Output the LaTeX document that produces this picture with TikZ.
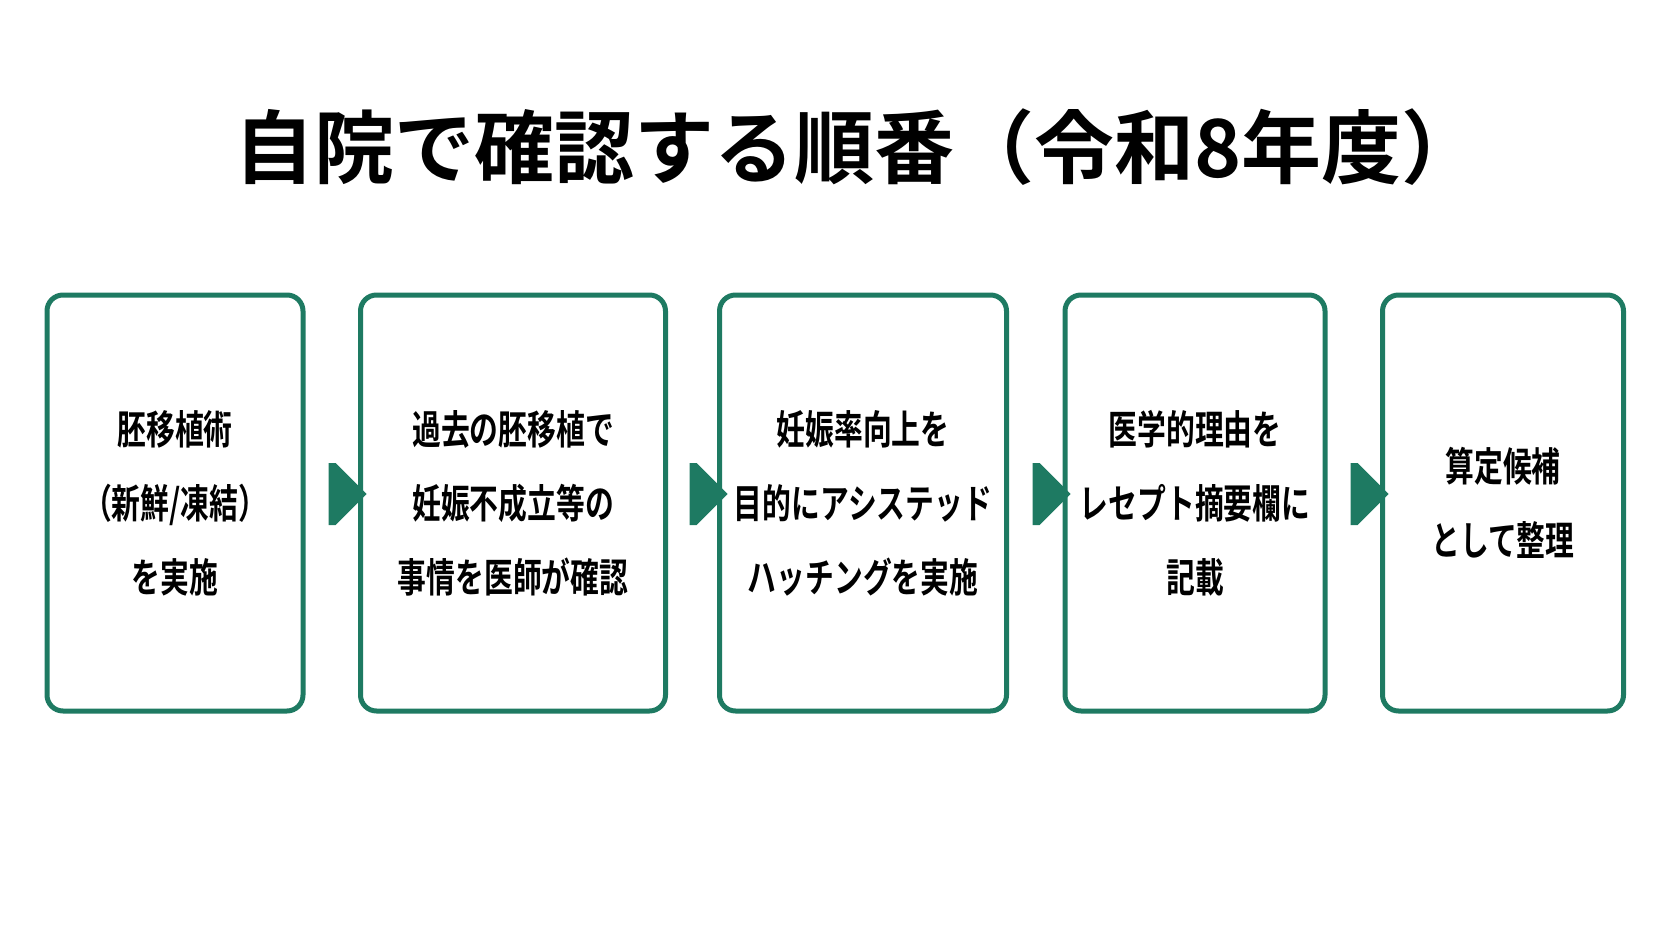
\documentclass[tikz,border=0pt]{standalone}
\usepackage{fontspec}
\setmainfont{Noto Sans CJK JP}[BoldFont={* Bold}]
\newfontfamily\narrowjp{Noto Sans CJK JP Bold}[FakeStretch=0.72]
\usetikzlibrary{shapes.arrows}
\definecolor{stepgreen}{HTML}{1E7A62}
\begin{document}
\begin{tikzpicture}[x=1pt,y=-1pt,
  stage/.style = {draw=stepgreen, line width=5pt, rounded corners=16pt, fill=white,
                 align=center, font=\fontsize{40}{74}\narrowjp, inner sep=0pt},
  go/.style = {single arrow, fill=stepgreen, draw=none, minimum width=62pt,
               minimum height=38pt, single arrow head extend=0pt, inner sep=0pt}]
  \useasboundingbox (0,0) rectangle (1672,941);
  \node[font=\fontsize{80}{88}\selectfont\bfseries] (title) at (858,147) {自院で確認する順番（令和8年度）};
  \node[stage, minimum width=256pt, minimum height=416pt] (1) at (175,503) {胚移植術\\（新鮮/凍結）\\を実施};
  \node[stage, minimum width=305pt, minimum height=416pt] (2) at (513,503) {過去の胚移植で\\妊娠不成立等の\\事情を医師が確認};
  \node[stage, minimum width=287pt, minimum height=416pt] (3) at (863,503) {妊娠率向上を\\目的にアシステッド\\ハッチングを実施};
  \node[stage, minimum width=260pt, minimum height=416pt] (4) at (1195,503) {医学的理由を\\レセプト摘要欄に\\記載};
  \node[stage, minimum width=241pt, minimum height=416pt] (5) at (1503,503) {算定候補\\として整理};
  \node[go] (a1) at (332,494) {};
  \node[go] (a2) at (693,494) {};
  \node[go] (a3) at (1036,494) {};
  \node[go] (a4) at (1354,494) {};
\end{tikzpicture}
\end{document}
